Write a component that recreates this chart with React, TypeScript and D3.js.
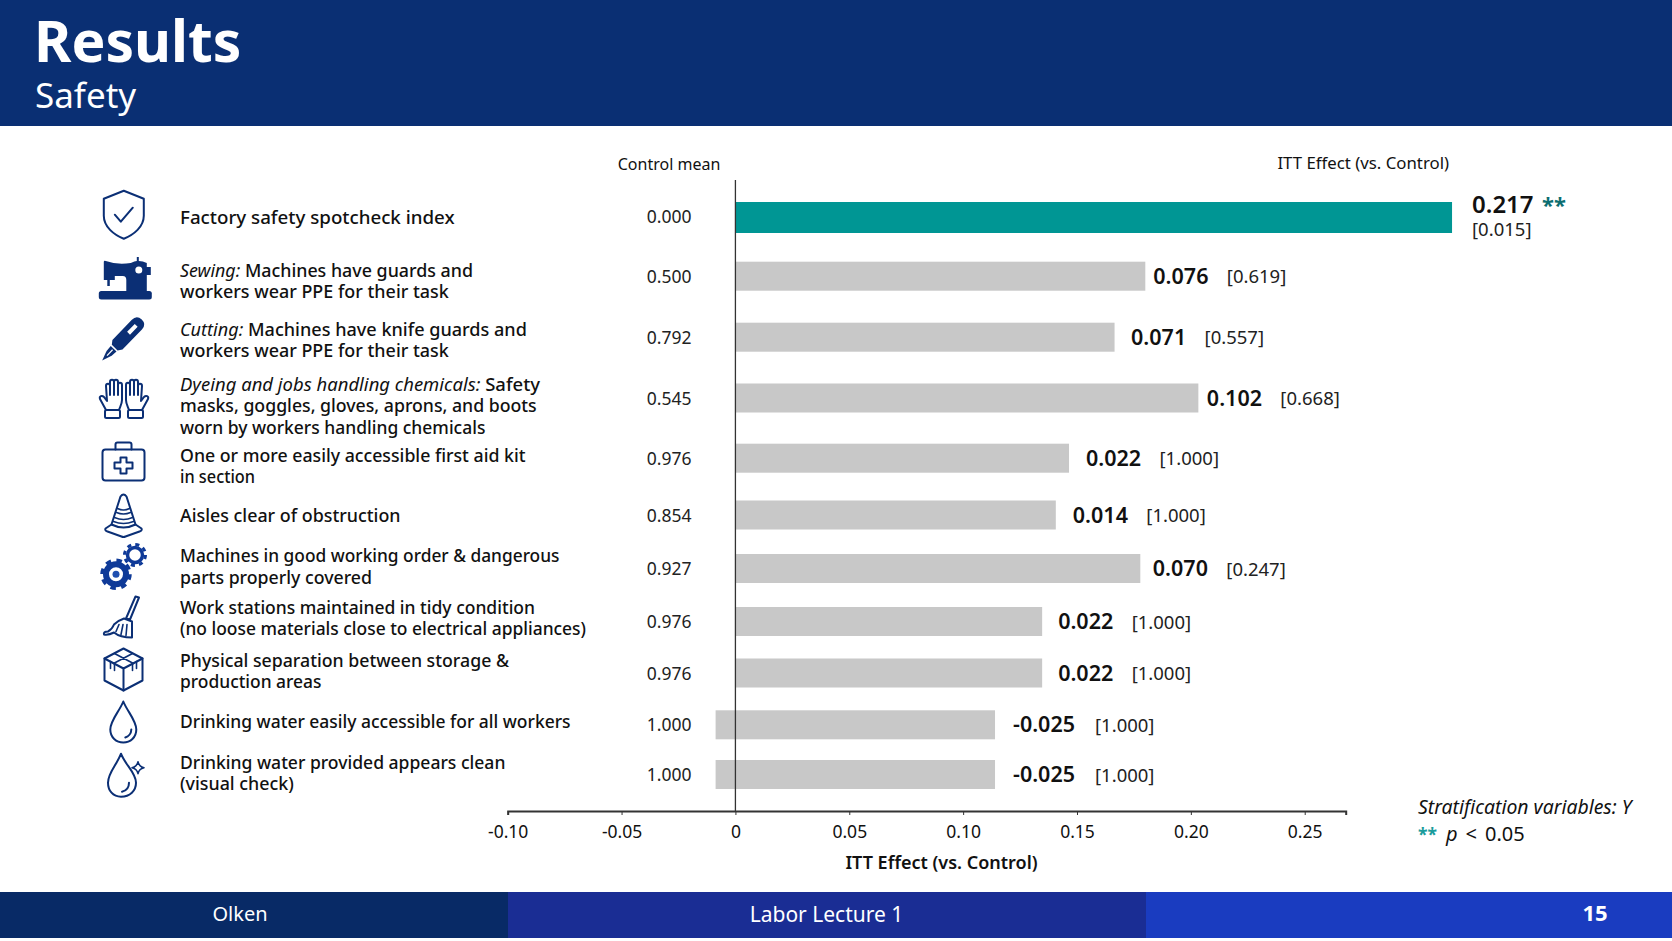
import * as React from 'react'
import * as d3 from 'd3'

// rows, top to bottom
const rowLeads = ['', 'Sewing:', 'Cutting:', 'Dyeing and jobs handling chemicals:', '', '', '', '', '', '', '']
const rowLines = [
    ['Factory safety spotcheck index'],
    [' Machines have guards and', 'workers wear PPE for their task'],
    [' Machines have knife guards and', 'workers wear PPE for their task'],
    [' Safety', 'masks, goggles, gloves, aprons, and boots', 'worn by workers handling chemicals'],
    ['One or more easily accessible first aid kit', 'in section'],
    ['Aisles clear of obstruction'],
    ['Machines in good working order & dangerous', 'parts properly covered'],
    ['Work stations maintained in tidy condition', '(no loose materials close to electrical appliances)'],
    ['Physical separation between storage &', 'production areas'],
    ['Drinking water easily accessible for all workers'],
    ['Drinking water provided appears clean', '(visual check)'],
]
const controlMeans = ['0.000', '0.500', '0.792', '0.545', '0.976', '0.854', '0.927', '0.976', '0.976', '1.000', '1.000']
const effectLabels = ['0.217', '0.076', '0.071', '0.102', '0.022', '0.014', '0.070', '0.022', '0.022', '-0.025', '-0.025']
const pLabels = ['[0.015]', '[0.619]', '[0.557]', '[0.668]', '[1.000]', '[1.000]', '[0.247]', '[1.000]', '[1.000]', '[1.000]', '[1.000]']

// bar extents as they sit against the printed axis (the slide's bars do not follow the printed effects)
const barStart = [0, 0, 0, 0, 0, 0, 0, 0, 0, -0.0087, -0.0087]
const barEnd = [0.3147, 0.18, 0.1665, 0.2033, 0.1465, 0.1407, 0.1778, 0.1347, 0.1347, 0.114, 0.114]

const axisTicks = [-0.1, -0.05, 0, 0.05, 0.1, 0.15, 0.2, 0.25]

// layout
const W = 1672
const H = 941
const rowCenters = [217, 276.7, 337.7, 398.5, 458.7, 515.5, 569, 622, 673.5, 725.3, 775]
const textBaselines = [224, 276.7, 336, 391, 461.7, 521.7, 562.3, 614, 666.7, 728.3, 768.7]
const lineWidths = [[274.6], [293, 268.8], [346.9, 268.8], [360, 356.7, 305.4], [345.5, 75], [220.5], [379.5, 192], [355, 406], [329, 141.5], [390.6], [325.4, 113.8]]
const labelGaps = [20, 8, 16.5, 8.5, 17, 17, 12.5, 16, 16, 18, 18]
const pGaps = [0, 73.5, 73.5, 73.5, 73.5, 73.5, 73.5, 73.5, 73.5, 82, 82]
const iconCenters = [214.7, 278, 339, 399, 461.5, 515.5, 566.5, 617.5, 669.5, 721.5, 774.7]
const iconX = [123.8, 124.8, 123, 124, 123.5, 123.5, 123.5, 122, 123.5, 123.3, 125]
const NAVY = '#0b2f75'
const FONT = '"Noto Sans", sans-serif'

const x = d3.scaleLinear().domain([-0.1, 0.268]).range([507.7, 1345.7])
const rows = d3.range(rowCenters.length)
const y = d3.scaleLinear().domain(rows).range(rowCenters)
const textY = d3.scaleLinear().domain(rows).range(textBaselines)
const iconY = d3.scaleLinear().domain(rows).range(iconCenters)

const line = { fill: 'none', stroke: NAVY, strokeWidth: 2, strokeLinejoin: 'round', strokeLinecap: 'round' } as const

const Hand = () => (
    <g {...line}>
        <path d="M-18 11 L-24 0 C-25 -3 -22 -4 -20 -2 L-17 2 L-18 -13 C-18 -16 -14 -16 -14 -13 L-14 -4 M-14 -13 L-14 -17 C-14 -20 -10 -20 -10 -17 L-10 -4 M-10 -17 C-10 -20 -6 -20 -6 -17 L-6 -4 M-6 -14 C-6 -17 -2 -17 -2 -14 L-2 1 C-2 5 -4 8 -5 11" />
        <rect x={-19} y={11} width={15} height={8} rx={1.5} />
    </g>
)

const icons = [
    <g {...line}>
        <path d="M0 -24 L20 -16 L20 1 C20 12 10 20 0 24 C-10 20 -20 12 -20 1 L-20 -16 Z" />
        <path d="M-9 0 L-3 7 L9 -7" />
    </g>,
    <g>
        <path fill={NAVY} fillRule="evenodd" d="M-21 -16 Q-21 -18 -19 -17 Q-8 -13 6 -15 Q10 -17 12 -17 V-21 H14 V-17 Q18 -17 22 -15 V-11 H26 V-3 H22 V13 H1.5 V2 Q1.5 -2 -2 -2 H-10 V2 H-15 V8 H-17.5 V2 H-21 Z M10.5 -8 a3.5 3.5 0 1 0 7 0 a3.5 3.5 0 1 0 -7 0 Z" />
        <rect x={-26} y={13} width={53} height={8.5} rx={2.5} fill={NAVY} />
    </g>,
    <g transform="rotate(44)">
        <path fill={NAVY} fillRule="evenodd" d="M-7 -20 Q-7 -27 0 -27 Q7 -27 7 -20 V8 L4 12 H-4 L-7 8 Z M-2 -19 V-8 H2 V-19 Z" />
        <path fill={NAVY} d="M-4 13.5 H4 L3.5 20 L0 30 L-3.5 20 Z" />
        <path d="M0 15 V23" stroke="#fff" strokeWidth={1.2} />
    </g>,
    <g>
        <Hand />
        <g transform="scale(-1,1)"><Hand /></g>
    </g>,
    <g {...line}>
        <rect x={-21} y={-12} width={42} height={31} rx={3} />
        <path d="M-8 -12 V-17 Q-8 -19 -6 -19 H6 Q8 -19 8 -17 V-12" />
        <path d="M-3 -4 H3 V1 H9 V7 H3 V12 H-3 V7 H-9 V1 H-3 Z" />
    </g>,
    <g {...line}>
        <path d="M-3 -19 Q0 -23 3 -19 L12 9 Q0 15 -12 9 Z" />
        <path d="M-12 9 L-18 13 Q-19 15 -16 16 L-2 21 Q0 22 2 21 L16 16 Q19 15 18 13 L12 9" />
        <path d="M-6 -7 Q0 -4 6 -7 M-7 -3 Q0 0 7 -3 M-9 2 Q0 6 9 2 M-10 6 Q0 10 10 6" strokeWidth={1.4} />
    </g>,
    <g fill="none" stroke="#0f3a98">
        <circle cx={-7.5} cy={7.8} r={10} strokeWidth={6} />
        <circle cx={-7.5} cy={7.8} r={14} strokeWidth={3.5} strokeDasharray="5.5 5.5" />
        <circle cx={-7.5} cy={7.8} r={3.5} fill="#1f4fb0" stroke="none" />
        <circle cx={11.5} cy={-11.5} r={7.5} strokeWidth={3.5} />
        <circle cx={11.5} cy={-11.5} r={10.5} strokeWidth={3} strokeDasharray="4.12 4.12" />
    </g>,
    <g {...line}>
        <path d="M13.5 -21 L17 -20 L8 2 L4 1 Z" />
        <path d="M2 1 L10 4 L10 20 Q-2 20 -8 15 Q-14 18 -18 17 Q-19 14 -14 14 Q-10 12 -8 7 Q-4 3 2 1 Z" />
        <path d="M-3 7 L-6 14 M1 7 L-1 17 M5 7 L4 18" strokeWidth={1.6} />
    </g>,
    <g {...line}>
        <path d="M0 -21 L19 -11 V11 L0 21 L-19 11 V-11 Z" />
        <path d="M-19 -11 L0 -1 L19 -11 M0 -1 V21" />
        <path d="M-9 -16 L10 -6 M9 -16 L-10 -6 M-13 -8 V-1 M-9 -6 V1 M13 -8 V-1 M9 -6 V1" strokeWidth={1.6} />
    </g>,
    <g {...line}>
        <path d="M0 -20 C4 -10 13 -1 13 8 C13 16 7 21 0 21 C-7 21 -13 16 -13 8 C-13 -1 -4 -10 0 -20 Z" />
        <path d="M8 8 C8 12 5 15 2 16" />
    </g>,
    <g {...line}>
        <path d="M-4 -21 C0 -10 11 -2 11 8 C11 16 5 22 -4 22 C-12 22 -17 16 -17 8 C-17 -2 -8 -10 -4 -21 Z" />
        <path d="M4 8 C4 13 1 16 -3 17" />
        <path d="M13 -13 Q14 -8 19 -7 Q14 -6 13 -1 Q12 -6 7 -7 Q12 -8 13 -13 Z" strokeWidth={1.6} />
    </g>,
]

export default function App() {
    const axisRef = React.useRef<SVGGElement | null>(null)

    React.useEffect(() => {
        if (!axisRef.current) return
        const g = d3.select(axisRef.current)
        g.selectAll('*').remove()
        g.call(
            d3.axisBottom(x)
                .tickValues(axisTicks)
                .tickSizeOuter(0)
                .tickSize(4)
                .tickPadding(11)
                .tickFormat((d) => (+d === 0 ? '0' : (+d).toFixed(2))) as any
        )
        g.select('.domain').attr('stroke', '#333').attr('stroke-width', 2)
        g.selectAll('.tick line').attr('stroke', '#333')
        g.selectAll('.tick text')
            .attr('fill', '#111')
            .attr('font-family', FONT)
            .attr('font-size', 17.5)
    }, [])

    return (
        <svg width={W} height={H} viewBox={`0 0 ${W} ${H}`} fontFamily={FONT}
            style={{ position: 'absolute', left: 0, top: 0, display: 'block', background: '#fff' }}>
            <rect width={W} height={126} fill="#0a2f73" />
            <text x={34} y={62} fill="#fff" fontSize={57} fontWeight={700}>Results</text>
            <text x={35} y={108} fill="#fff" fontSize={35}>Safety</text>

            <text x={669} y={170} textAnchor="middle" fontSize={16} fill="#111">Control mean</text>
            <text x={1449} y={169} textAnchor="end" fontSize={16.8} fill="#111">ITT Effect (vs. Control)</text>

            {rows.map((i) => (
                <g key={i} transform={`translate(${iconX[i]},${iconY(i)})`}>{icons[i]}</g>
            ))}

            {rows.map((i) => rowLines[i].map((t, j) => (
                <text key={`${i}-${j}`} x={180} y={textY(i) + j * 21.4} fontSize={18} fontWeight={500} fill="#111"
                    textLength={lineWidths[i][j]} lengthAdjust="spacingAndGlyphs">
                    {j === 0 && rowLeads[i] ? <tspan fontStyle="italic" fontWeight={400}>{rowLeads[i]}</tspan> : null}
                    {t}
                </text>
            )))}

            {rows.map((i) => (
                <text key={i} x={691.5} y={y(i) + 6} textAnchor="end" fontSize={17.5} fill="#222">{controlMeans[i]}</text>
            ))}

            {rows.map((i) => (
                <rect key={i} x={x(barStart[i])} width={x(barEnd[i]) - x(barStart[i])}
                    y={y(i) - 15} height={i === 0 ? 31 : 29}
                    fill={i === 0 ? '#009694' : '#c8c8c8'} />
            ))}

            <line x1={x(0)} x2={x(0)} y1={180} y2={811} stroke="#333" strokeWidth={1.3} />
            <g ref={axisRef} transform="translate(0,811)" />
            <text x={941.5} y={869} textAnchor="middle" fontSize={18} fontWeight={600} fill="#111">ITT Effect (vs. Control)</text>

            {rows.map((i) => {
                const lx = x(barEnd[i]) + labelGaps[i]
                if (i === 0) {
                    return (
                        <g key={i}>
                            <text x={lx} y={213} fontSize={24} fontWeight={600} fill="#111">{effectLabels[i]}</text>
                            <text x={1542} y={213} fontSize={22} fontWeight={700} fill="#0b6e70">**</text>
                            <text x={lx} y={236} fontSize={18.5} fill="#222">{pLabels[i]}</text>
                        </g>
                    )
                }
                return (
                    <g key={i}>
                        <text x={lx} y={y(i) + 7} fontSize={21.5} fontWeight={600} fill="#111">{effectLabels[i]}</text>
                        <text x={lx + pGaps[i]} y={y(i) + 6.5} fontSize={18.5} fill="#222">{pLabels[i]}</text>
                    </g>
                )
            })}

            <text x={1418} y={814} fontSize={19.4} fontStyle="italic" fill="#111">Stratification variables: Y</text>
            <text x={1418} y={841} fontSize={17.5} fontWeight={700} fill="#1a9c9c">**</text>
            <text x={1446} y={841} fontSize={20} fill="#111">
                <tspan fontStyle="italic">p</tspan>
                <tspan dx={8}>&lt;</tspan>
                <tspan dx={8}>0.05</tspan>
            </text>

            <rect y={892} width={508} height={46} fill="#082a66" />
            <rect x={508} y={892} width={638} height={46} fill="#1a2d94" />
            <rect x={1146} y={892} width={526} height={46} fill="#1a3cc0" />
            <text x={240} y={921} textAnchor="middle" fontSize={20} fill="#fff">Olken</text>
            <text x={826.5} y={921.5} textAnchor="middle" fontSize={21} fill="#fff">Labor Lecture 1</text>
            <text x={1595} y={921} textAnchor="middle" fontSize={22} fontWeight={700} fill="#fff">15</text>
        </svg>
    )
}
